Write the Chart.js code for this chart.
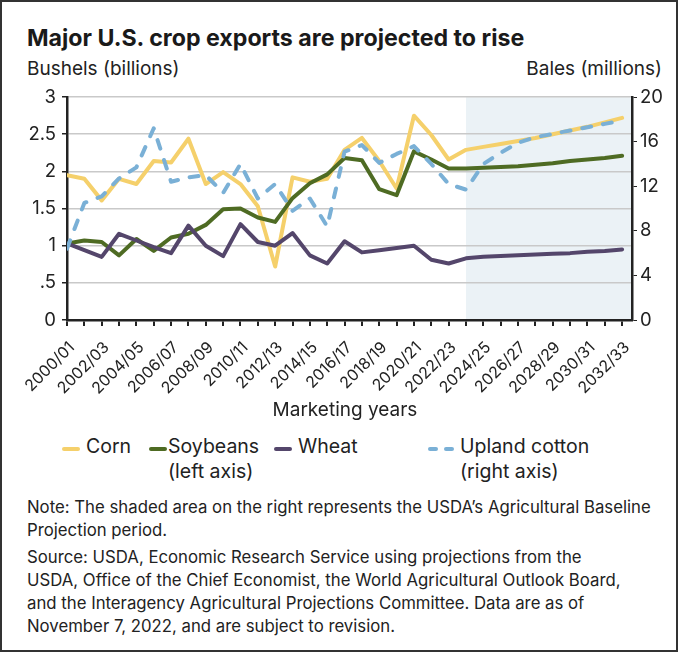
<!DOCTYPE html>
<html>
<head>
<meta charset="utf-8">
<script src="https://cdn.jsdelivr.net/npm/chart.js@4"></script>
<style>
  html, body { margin: 0; padding: 0; background: #fff; }
  body { font-family: Inter, Roboto, sans-serif; color: #222; }
  #frame {
    position: relative; width: 678px; height: 652px; box-sizing: border-box;
    border: 2px solid #333; overflow: hidden;
  }
  #frame div { position: absolute; white-space: nowrap; }
  #title { left: 25px; top: 23px; font-size: 23.2px; line-height: 26px; font-weight: bold; color: #1a1a1a; }
  .unit { top: 55px; font-size: 19px; line-height: 24px; }
  #unitL { left: 25px; }
  #unitR { right: 14px; }
  #xtitle { left: 0; width: 686px; text-align: center; top: 396px; font-size: 19px; line-height: 24px; }
  .leg { top: 432px; font-size: 19.5px; line-height: 25px; }
  .sw { position: absolute; top: 11px; height: 0; border-top: 4px solid; border-radius: 2px; }
  #notes { left: 25px; top: 494px; font-size: 16.75px; line-height: 23px; }
  #notes p { margin: 0 0 4px 0; }
  #chartBox { position: absolute; left: -2px; top: 78px; width: 678px; height: 345px; }
</style>
</head>
<body>
<div id="frame">
  <div id="title">Major U.S. crop exports are projected to rise</div>
  <div class="unit" id="unitL">Bushels (billions)</div>
  <div class="unit" id="unitR">Bales (millions)</div>
  <div id="chartBox"><canvas id="chart"></canvas></div>
  <div id="xtitle">Marketing years</div>
  <i class="sw" style="left:60px;top:445px;width:18px;border-color:#f5d06b"></i>
  <div class="leg" style="left:84px">Corn</div>
  <i class="sw" style="left:147px;top:445px;width:18px;border-color:#4e6b23"></i>
  <div class="leg" style="left:166px">Soybeans<br>(left axis)</div>
  <i class="sw" style="left:272px;top:445px;width:18px;border-color:#54466b"></i>
  <div class="leg" style="left:296px">Wheat</div>
  <i class="sw" style="left:426px;top:445px;width:10px;border-color:#7ab0d6"></i>
  <i class="sw" style="left:442px;top:445px;width:10px;border-color:#7ab0d6"></i>
  <div class="leg" style="left:458px">Upland cotton<br>(right axis)</div>
  <div id="notes">
    <p>Note: The shaded area on the right represents the USDA’s Agricultural Baseline<br>Projection period.</p>
    <p>Source: USDA, Economic Research Service using projections from the<br>USDA, Office of the Chief Economist, the World Agricultural Outlook Board,<br>and the Interagency Agricultural Projections Committee. Data are as of<br>November 7, 2022, and are subject to revision.</p>
  </div>
</div>
<script>
// Marketing years on the x axis
const years = ["2000/01", "2001/02", "2002/03", "2003/04", "2004/05", "2005/06", "2006/07", "2007/08",
  "2008/09", "2009/10", "2010/11", "2011/12", "2012/13", "2013/14", "2014/15", "2015/16", "2016/17",
  "2017/18", "2018/19", "2019/20", "2020/21", "2021/22", "2022/23", "2023/24", "2024/25", "2025/26",
  "2026/27", "2027/28", "2028/29", "2029/30", "2030/31", "2031/32", "2032/33"];
const projectionStart = "2023/24";

// billion bushels (left axis)
const corn = [1.95, 1.90, 1.61, 1.90, 1.83, 2.14, 2.12, 2.44, 1.83, 1.99, 1.83, 1.53, 0.72, 1.92, 1.86, 1.90,
  2.29, 2.45, 2.14, 1.77, 2.75, 2.49, 2.16, 2.29, 2.33, 2.37, 2.41, 2.45, 2.50, 2.55, 2.60, 2.66, 2.72];
const soybeans = [1.03, 1.07, 1.05, 0.87, 1.09, 0.93, 1.11, 1.16, 1.28, 1.49, 1.50, 1.38, 1.32, 1.64, 1.84, 1.96,
  2.18, 2.15, 1.76, 1.68, 2.27, 2.16, 2.04, 2.04, 2.05, 2.06, 2.07, 2.09, 2.11, 2.14, 2.16, 2.18, 2.21];
const wheat = [1.03, 0.94, 0.85, 1.16, 1.07, 0.98, 0.90, 1.27, 1.00, 0.86, 1.29, 1.05, 1.00, 1.17, 0.87, 0.76,
  1.06, 0.91, 0.94, 0.97, 1.00, 0.81, 0.76, 0.83, 0.85, 0.86, 0.87, 0.88, 0.89, 0.90, 0.92, 0.93, 0.95];
// million bales (right axis)
const cotton = [6.4, 10.5, 11.1, 12.7, 13.7, 17.2, 12.4, 12.8, 13.0, 11.4, 14.0, 10.9, 12.2, 9.8, 10.9, 8.4,
  15.1, 15.7, 14.1, 14.9, 15.6, 14.0, 12.2, 11.7, 14.0, 15.0, 15.9, 16.4, 16.7, 17.0, 17.3, 17.6, 17.9];

const leftTicks = [0, 0.5, 1, 1.5, 2, 2.5, 3];
const rightTicks = [0, 2, 4, 6, 8, 10, 12, 14, 16, 18, 20];

const pts = arr => arr.map((v, i) => ({ x: i, y: v }));
const ink = "#222";

// light band behind the projection years
const shadePlugin = {
  id: "shade",
  beforeDraw(chart) {
    const { ctx, chartArea, scales } = chart;
    const x0 = scales.x.getPixelForValue(years.indexOf(projectionStart));
    ctx.save();
    ctx.fillStyle = "#ebf2f6";
    ctx.fillRect(x0, chartArea.top, chartArea.right - x0, chartArea.bottom - chartArea.top);
    ctx.restore();
  }
};

const line = (data, color, axis, extra) => Object.assign({
  data: pts(data), borderColor: color, borderWidth: 4, pointRadius: 0,
  tension: 0, yAxisID: axis, borderJoinStyle: "round", borderCapStyle: "round"
}, extra || {});

new Chart(document.getElementById("chart"), {
  type: "line",
  data: {
    datasets: [
      line(cotton, "#7ab0d6", "y2", { borderDash: [9, 12] }),
      line(wheat, "#54466b", "y"),
      line(soybeans, "#4e6b23", "y"),
      line(corn, "#f5d06b", "y")
    ]
  },
  plugins: [shadePlugin],
  options: {
    responsive: true,
    maintainAspectRatio: false,
    animation: false,
    layout: { padding: { top: 11, left: 0, right: 0, bottom: 0 } },
    plugins: { legend: { display: false }, tooltip: { enabled: false } },
    scales: {
      x: {
        type: "linear", min: 0, max: years.length - 0.43,
        afterFit: s => { s.height = 105; },
        afterBuildTicks: s => { s.ticks = years.map((_, i) => ({ value: i })); },
        grid: { drawOnChartArea: false, tickColor: ink, tickLength: 6, lineWidth: 2 },
        border: { color: ink, width: 2.5 },
        ticks: {
          autoSkip: false, maxRotation: 45, minRotation: 45, padding: 12, labelOffset: 5,
          color: ink, font: { family: "Inter", size: 16 },
          callback: v => (v % 2 === 0 ? years[v] : "")
        }
      },
      y: {
        position: "left", min: 0, max: 3,
        afterFit: s => { s.width = 67; },
        afterBuildTicks: s => { s.ticks = leftTicks.map(v => ({ value: v })); },
        grid: { color: "#c9c9c9", lineWidth: 1.5, tickColor: ink, tickLength: 5 },
        border: { color: ink, width: 2.5 },
        ticks: {
          color: ink, padding: 6, font: { family: "Inter", size: 18.5 },
          callback: v => (v === 0.5 ? ".5" : String(v))
        }
      },
      y2: {
        position: "right", min: 0, max: 20,
        afterFit: s => { s.width = 46; },
        afterBuildTicks: s => { s.ticks = rightTicks.map(v => ({ value: v })); },
        grid: { drawOnChartArea: false, tickColor: ink, tickLength: 5 },
        border: { color: ink, width: 2.5 },
        ticks: { color: ink, padding: 3, font: { family: "Inter", size: 18.5 } }
      }
    }
  }
});
</script>
</body>
</html>
